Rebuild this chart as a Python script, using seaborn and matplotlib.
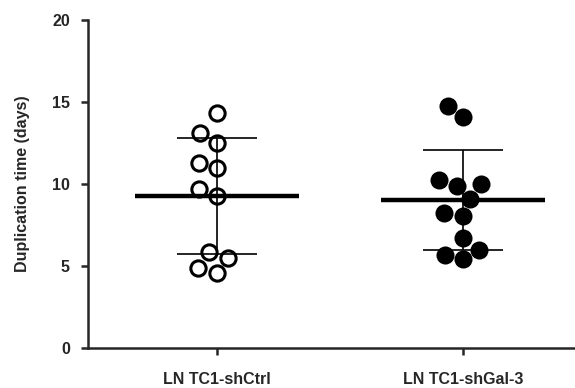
import numpy as np
import pandas as pd
import seaborn as sns
import matplotlib.pyplot as plt

# duplication times (days)
groups = ['LN TC1-shCtrl', 'LN TC1-shGal-3']
shctrl = [14.35, 13.09, 12.52, 11.30, 10.96, 9.68, 9.27, 5.84, 5.51, 4.86, 4.59]
shgal3 = [14.78, 14.10, 10.24, 9.88, 9.98, 9.07, 8.25, 8.05, 6.69, 5.98, 5.67, 5.43]
yticks = [0, 5, 10, 15, 20]

df = pd.DataFrame({
    'group': [groups[0]] * len(shctrl) + [groups[1]] * len(shgal3),
    'days': shctrl + shgal3,
})

sns.set_style('ticks')
plt.rcParams['font.family'] = ['Liberation Sans', 'DejaVu Sans']
plt.rcParams['font.weight'] = 'bold'

fig = plt.figure(figsize=(5.75, 3.88), dpi=100)
ax = fig.add_axes([0.153, 0.103, 0.847, 0.845])

# open circles for shCtrl, filled for shGal-3
sns.swarmplot(data=df[df.group == groups[0]], x='group', y='days', order=groups,
              color='white', edgecolor='black', linewidth=2.2, size=11, ax=ax, zorder=3)
sns.swarmplot(data=df[df.group == groups[1]], x='group', y='days', order=groups,
              color='black', edgecolor='black', linewidth=0, size=13, ax=ax, zorder=3)

# mean +/- SD
stats = df.groupby('group', sort=False)['days'].agg(['mean', 'std'])
for i, g in enumerate(groups):
    m, s = stats.loc[g, 'mean'], stats.loc[g, 'std']
    ax.hlines(m, i - 0.333, i + 0.333, color='black', lw=3.2, zorder=5)
    ax.errorbar(i, m, yerr=s, color='black', lw=1.2, capsize=29, capthick=1.2, zorder=4)

ax.set_xlim(-0.524, 1.455)
ax.set_ylim(0, 20)
ax.set_yticks(yticks)
ax.set_xlabel('')
ax.set_ylabel('Duplication time (days)', fontsize=11.5, fontweight='bold', labelpad=16)
ax.tick_params(axis='both', labelsize=11.5, width=1.8, length=5, direction='out')
for lab in ax.get_xticklabels() + ax.get_yticklabels():
    lab.set_fontweight('bold')
ax.tick_params(axis='x', pad=12)
ax.tick_params(axis='y', pad=8)
for side in ['left', 'bottom']:
    ax.spines[side].set_linewidth(1.8)
sns.despine(ax=ax)

fig.savefig('out.png', dpi=100)
